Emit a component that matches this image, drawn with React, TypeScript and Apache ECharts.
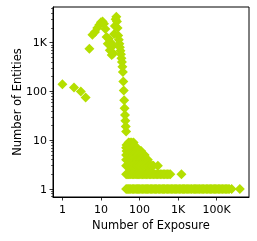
import React, { useEffect, useRef } from "react";
import * as echarts from "echarts";

// Low-exposure part: one point per exposure value
const lowExposure = [1, 2, 3, 4, 5, 6, 7, 8, 9, 10, 11, 12, 13, 14, 15, 16, 17, 18, 19, 20, 21, 22, 23, 24, 25, 26, 27, 28, 29, 30, 31, 32, 33, 34, 35, 36, 37, 38, 39, 40, 41, 42, 43, 44, 45];
const lowCount = [140, 120, 100, 75, 750, 1450, 1650, 2000, 2300, 2600, 2700, 2450, 1900, 1300, 950, 1200, 700, 1000, 560, 850, 600, 1500, 2200, 3000, 3400, 2700, 2000, 1400, 1150, 950, 800, 680, 580, 480, 400, 320, 250, 160, 105, 66, 45, 33, 25, 19, 15];

// High-exposure part: exposures observed for each small entity count
const exposuresCount9 = [52, 57, 63, 70];
const exposuresCount8 = [46, 50, 54, 59, 64, 70];
const exposuresCount7 = [45, 49, 53, 57, 62, 67, 73, 79, 86];
const exposuresCount6 = [46, 50, 54, 58, 63, 68, 74, 80, 87, 95, 103, 110];
const exposuresCount5 = [45, 48, 52, 56, 60, 65, 70, 76, 83, 90, 98, 107, 117, 128, 136];
const exposuresCount4 = [45, 48, 52, 56, 60, 65, 70, 76, 82, 90, 98, 106, 115, 125, 137, 150, 165];
const exposuresCount3 = [45, 48, 52, 56, 60, 65, 70, 76, 82, 88, 95, 102, 110, 120, 130, 142, 155, 170, 185, 200, 215, 230, 300];
const exposuresCount2 = [45, 48, 52, 56, 60, 65, 70, 76, 82, 88, 95, 102, 110, 120, 130, 140, 152, 165, 180, 195, 212, 230, 250, 272, 295, 320, 350, 380, 415, 450, 490, 535, 580, 630, 1500];
const exposuresCount1 = [45, 48, 52, 56, 60, 65, 70, 76, 82, 88, 95, 102, 110, 120, 130, 140, 150, 162, 175, 190, 205, 222, 240, 260, 280, 305, 330, 360, 390, 420, 450, 490, 530, 575, 620, 675, 730, 790, 850, 920, 1000, 1200, 1400, 1650, 1900, 2200, 2600, 3000, 3600, 4200, 5000, 6000, 7000, 8200, 9500, 11000, 13000, 15500, 18000, 21000, 25000, 30000, 35000, 41000, 48000, 56000, 66000, 78000, 90000, 105000, 125000, 145000, 170000, 200000, 240000, 280000, 330000, 390000, 450000, 600000, 1600000];

const xTickValues = [1, 10, 100, 1000, 100000];
const xTickLabels = ["1", "10", "100", "1K", "100K"];
const yTickValues = [1, 10, 100, 1000];
const yTickLabels = ["1", "10", "100", "1K"];
const yMinorTicks = [0.7, 0.8, 0.9, 2, 3, 4, 5, 6, 7, 8, 9, 20, 30, 40, 50, 60, 70, 80, 90, 200, 300, 400, 500, 600, 700, 800, 900, 2000, 3000, 4000, 5000];

// x axis: decades up to 1K, then compressed (1K -> 100K spans one unit)
const xPos = (v: number) => {
  const l = Math.log10(v);
  return l <= 3 ? l : 3 + (l - 3) / 2;
};

const FONT = "DejaVu Sans";
const COLOR = "#b4df00";

export default function App() {
  const ref = useRef<HTMLDivElement>(null);
  useEffect(() => {
    if (!ref.current) return;
    const chart = echarts.init(ref.current, null, { renderer: "svg" });
    const data: number[][] = [];
    lowExposure.forEach((e, i) => data.push([xPos(e), lowCount[i]]));
    const levels: [number, number[]][] = [
      [9, exposuresCount9], [8, exposuresCount8], [7, exposuresCount7], [6, exposuresCount6],
      [5, exposuresCount5], [4, exposuresCount4], [3, exposuresCount3], [2, exposuresCount2], [1, exposuresCount1],
    ];
    levels.forEach(([c, arr]) => arr.forEach((e) => data.push([xPos(e), c])));
    const xTickPos = xTickValues.map(xPos);
    const labelFor = (v: number) => {
      const i = xTickPos.findIndex((p) => Math.abs(p - v) < 1e-6);
      return i >= 0 ? xTickLabels[i] : "";
    };
    const yLabelFor = (v: number) => {
      const i = yTickValues.findIndex((p) => Math.abs(p - v) < 1e-6 * p);
      return i >= 0 ? yTickLabels[i] : "";
    };
    const yMin = 0.686;
    const yMax = 5370;
    chart.setOption({
      animation: false,
      grid: {
        left: 53, right: 8, top: 7, bottom: 44,
        show: true, borderColor: "#000", borderWidth: 1,
        containLabel: false, outerBoundsMode: "none",
      },
      xAxis: {
        type: "value",
        min: -0.244,
        max: 4.84,
        name: "Number of Exposure",
        nameLocation: "middle",
        nameGap: 22,
        nameMoveOverlap: false,
        nameTextStyle: { fontFamily: FONT, fontSize: 11.5, color: "#000" },
        axisLine: { show: true, onZero: false, lineStyle: { color: "#000", width: 1 } },
        axisTick: { show: true, length: 3.5, customValues: xTickPos, lineStyle: { color: "#000", width: 0.8 } },
        axisLabel: { show: true, customValues: xTickPos, formatter: labelFor, margin: 7, fontFamily: FONT, fontSize: 11, color: "#000" },
        splitLine: { show: false },
      },
      yAxis: [
        {
          type: "log",
          logBase: 10,
          min: yMin,
          max: yMax,
          name: "Number of Entities",
          nameLocation: "middle",
          nameGap: 30,
          nameMoveOverlap: false,
          nameTextStyle: { fontFamily: FONT, fontSize: 11.5, color: "#000" },
          axisLine: { show: true, onZero: false, lineStyle: { color: "#000", width: 1 } },
          axisTick: { show: true, length: 3.5, customValues: yTickValues, lineStyle: { color: "#000", width: 0.8 } },
          axisLabel: { show: true, customValues: yTickValues, formatter: yLabelFor, margin: 6, fontFamily: FONT, fontSize: 11, color: "#000" },
          splitLine: { show: false },
        },
        {
          type: "log",
          logBase: 10,
          min: yMin,
          max: yMax,
          position: "left",
          offset: 0,
          axisLine: { show: false, onZero: false },
          axisTick: { show: true, length: 2, customValues: yMinorTicks, lineStyle: { color: "#000", width: 0.6 } },
          axisLabel: { show: false },
          splitLine: { show: false },
        },
      ],
      series: [
        {
          type: "scatter",
          symbol: "diamond",
          symbolSize: 10,
          itemStyle: { color: COLOR, opacity: 1 },
          data,
        },
      ],
    });
    return () => chart.dispose();
  }, []);
  return <div ref={ref} style={{ position: "fixed", left: 0, top: 0, width: 257, height: 241 }} />;
}
